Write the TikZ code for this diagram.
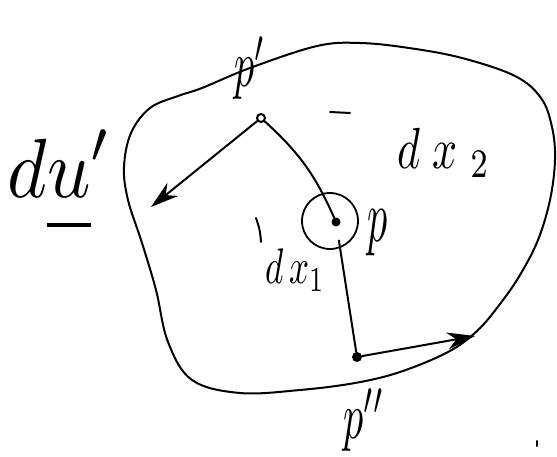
\documentclass[tikz,border=0pt]{standalone}
\usetikzlibrary{arrows.meta}
\usepackage{graphicx}
\tikzset{
  ink/.style={line width=2pt, line cap=round, line join=round},
  tipped/.style={-{Stealth[length=28pt,width=17pt]}},
  lbl/.style={inner sep=0pt},
  dotopen/.style={circle, draw, line width=2pt, minimum size=8pt, inner sep=0pt},
  dotfill/.style={circle, fill, minimum size=10pt, inner sep=0pt},
  ring/.style={circle, draw, line width=1.8pt, minimum size=56pt, inner sep=0pt},
}
% #1 = vertical scale, #2 = horizontal scale, #3 = math text
\newcommand\handlbl[3]{\scalebox{#2}[#1]{$#3$}}
\begin{document}
\begin{tikzpicture}[x=1pt,y=-1pt]
\useasboundingbox (0,0) rectangle (557,457);
% outline
\draw[ink] plot[smooth cycle, tension=0.6] coordinates {
 (202,88) (250,68) (317,46) (360,43) (409,48) (462,58) (515,76)
 (541,98) (552,127) (555,160) (550,200) (538,240) (520,275) (500,304)
 (477,331) (448,352) (400,372) (355,383) (300,390) (240,393)
 (192,380) (168,342) (156,290) (142,243) (128,200) (124,167) (131,133)
 (150,108) (178,96)};
% points
\node[dotopen] (pdot) at (261,118) {};
\node[ring] (pcirc) at (330,221) {};
\node[dotfill, minimum size=9pt] (pin) at (336,222) {};
\node[dotfill] (ppp) at (357,357) {};
\coordinate (dutip) at (151,207);
\coordinate (rtip) at (475,336);
% connectors
\draw[ink] (pdot) to[bend left=12] (pin);
\draw[ink, shorten <=14pt] (pin) -- (ppp);
\draw[ink, tipped] (pdot) -- (dutip);
\draw[ink, tipped] (ppp) -- (rtip);
% labels
\node[lbl] (lp1) at (250,68) {\handlbl{6.6}{4}{p'}};
\node[lbl] (lp) at (378,233) {\handlbl{7.4}{4}{p}};
\node[lbl] (lp2) at (364,420) {\handlbl{6.6}{4}{p''}};
\node[lbl] (ldu) at (60,180) {\handlbl{8.4}{7.6}{d\underline{u\vphantom{j}}'}};
\node[lbl] (ldx2) at (444,153) {\handlbl{5.8}{4.4}{d\hspace{2.6pt}x\hspace{3pt}{}_2}};
\node[lbl] (ldx1) at (295,270) {\handlbl{5}{3.5}{d\,x_1}};
% stray marks
\draw[ink] (330,112) -- (350,113);
\draw[ink] (256,218) to[bend left=8] (261,242);
\draw[ink] (537,441) -- (537,446);
\end{tikzpicture}
\end{document}
